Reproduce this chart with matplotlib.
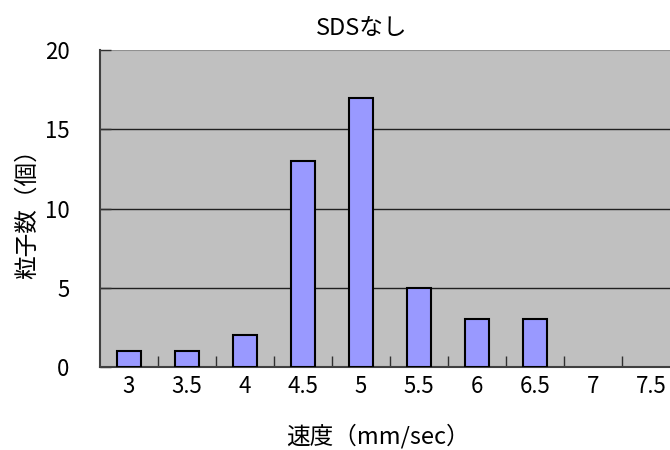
import matplotlib.pyplot as plt
import numpy as np

plt.rcParams['font.family'] = ['Noto Sans CJK JP', 'DejaVu Sans']

# データ
speeds = ['3', '3.5', '4', '4.5', '5', '5.5', '6', '6.5', '7', '7.5']
counts = [1, 1, 2, 13, 17, 5, 3, 3, 0, 0]

fig = plt.figure(figsize=(6.7, 4.5), dpi=100)
# 右端は図の外まで伸びている
ax = fig.add_axes([100 / 670, 1 - 367 / 450, 580 / 670, 317 / 450])
ax.set_facecolor('#c0c0c0')

x = np.arange(len(speeds))
lw = [1.5 if c > 0 else 0 for c in counts]  # 0の棒は描かない
ax.bar(x, counts, width=0.42, color='#9999ff', edgecolor='black', linewidth=lw, zorder=3)

ax.set_xlim(-0.5, len(speeds) - 0.5)
ax.set_ylim(0, 20)
ax.set_yticks([0, 5, 10, 15, 20])
for v in [5, 10, 15]:
    ax.axhline(v, color='#202020', linewidth=1, zorder=1)
ax.axhline(20, color='#909090', linewidth=1.5, zorder=1)

# 目盛り：区切り位置に線、中央にラベル
ax.set_xticks(x[:-1] + 0.5)
ax.set_xticklabels([])
ax.set_xticks(x, minor=True)
ax.set_xticklabels(speeds, minor=True)
ax.tick_params(axis='x', which='major', direction='in', length=8, width=1, color='#303030')
ax.tick_params(axis='x', which='minor', length=0, pad=6, labelsize=16)
ax.tick_params(axis='y', direction='in', length=8, width=1, color='#303030', pad=22, labelsize=16)

for s in ['top', 'right']:
    ax.spines[s].set_visible(False)
ax.spines['left'].set_color('#404040')
ax.spines['bottom'].set_color('#404040')
ax.spines['left'].set_linewidth(1.5)
ax.spines['bottom'].set_linewidth(1.5)

ax.set_xlabel('速度（mm/sec）', fontsize=17, labelpad=0)
ax.xaxis.set_label_coords((378 - 100) / 580, -(424 - 367) / 317)
ax.set_ylabel('粒子数（個）', fontsize=17, labelpad=4)
fig.text(362 / 670, 1 - 28 / 450, 'SDSなし', ha='center', va='center', fontsize=17)

plt.savefig('out.png')
plt.close()
